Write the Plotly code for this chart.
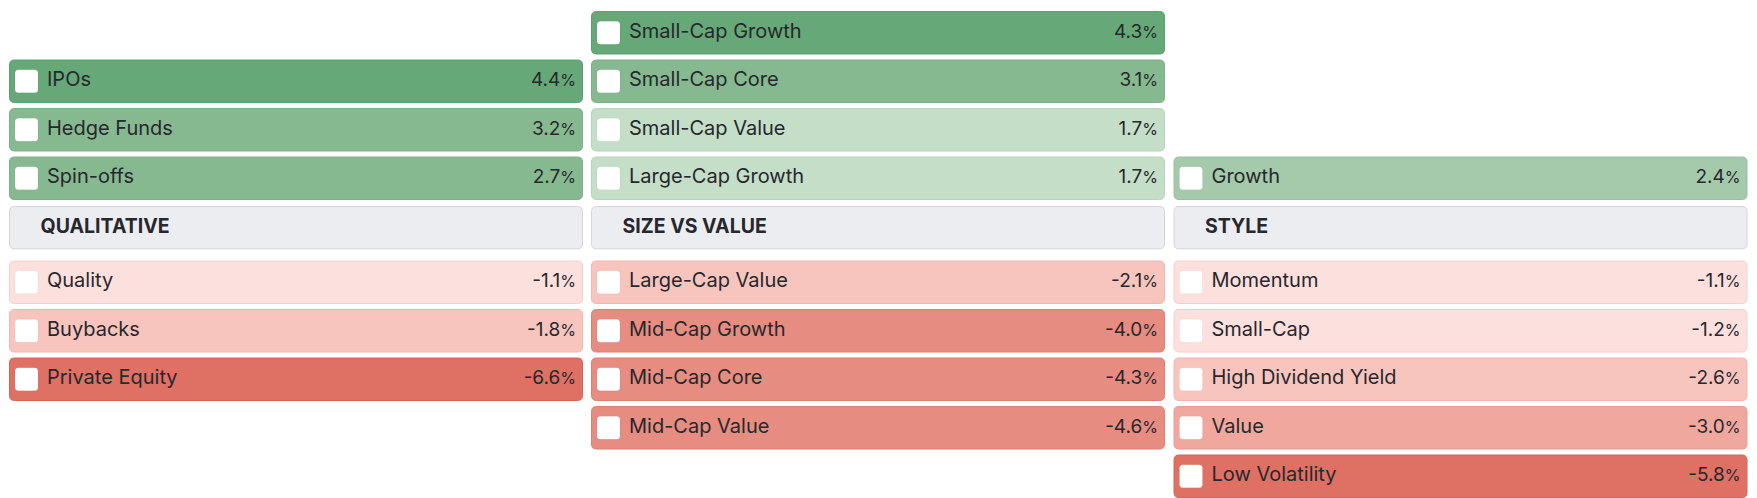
import plotly.graph_objects as go

# ---- data ----
group_titles = ["QUALITATIVE", "SIZE VS VALUE", "STYLE"]

qual_labels = ["IPOs", "Hedge Funds", "Spin-offs", "Quality", "Buybacks", "Private Equity"]
qual_values = [4.4, 3.2, 2.7, -1.1, -1.8, -6.6]

size_labels = ["Small-Cap Growth", "Small-Cap Core", "Small-Cap Value", "Large-Cap Growth",
               "Large-Cap Value", "Mid-Cap Growth", "Mid-Cap Core", "Mid-Cap Value"]
size_values = [4.3, 3.1, 1.7, 1.7, -2.1, -4.0, -4.3, -4.6]

style_labels = ["Growth", "Momentum", "Small-Cap", "High Dividend Yield", "Value", "Low Volatility"]
style_values = [2.4, -1.1, -1.2, -2.6, -3.0, -5.8]

groups = [(qual_labels, qual_values), (size_labels, size_values), (style_labels, style_values)]

# ---- style ----
W, H = 1757, 498
COL_X0 = [9, 591, 1173.5]
COL_W = 574
CELL_H = 43.5
PITCH = 48.5
HEADER_TOP = 206
HEADER_H = 43.3
NEG_TOP = 260.5
RADIUS = 5
TEXT_COLOR = "#26282d"
FONT = "Inter, Roboto, sans-serif"


def cell_color(v):
    if v >= 4.0:
        return "#66a877", "#5e9f6f"
    if v >= 2.5:
        return "#86b990", "#7cb086"
    if v >= 2.0:
        return "#a4caab", "#98c09f"
    if v > 0:
        return "#c4dec8", "#b6d4bb"
    if v > -1.5:
        return "#fce0dd", "#f5d0cb"
    if v > -2.9:
        return "#f7c5be", "#efb7af"
    if v > -3.5:
        return "#f0a89e", "#e89b90"
    if v > -5.0:
        return "#e68c80", "#dc8074"
    return "#df7064", "#d46457"


def rrect(x0, y0, x1, y1, r):
    return (f"M {x0+r},{y0} L {x1-r},{y0} Q {x1},{y0} {x1},{y0+r} "
            f"L {x1},{y1-r} Q {x1},{y1} {x1-r},{y1} L {x0+r},{y1} "
            f"Q {x0},{y1} {x0},{y1-r} L {x0},{y0+r} Q {x0},{y0} {x0+r},{y0} Z")


shapes = []
lab_x, lab_y, lab_t = [], [], []
val_x, val_y, val_t = [], [], []
hdr_x, hdr_y, hdr_t = [], [], []

for gi, (labels, values) in enumerate(groups):
    x0 = COL_X0[gi]
    x1 = x0 + COL_W
    pos = [(l, v) for l, v in zip(labels, values) if v > 0]
    neg = [(l, v) for l, v in zip(labels, values) if v <= 0]
    tops = []
    n = len(pos)
    for i in range(n):
        k = n - 1 - i
        tops.append(HEADER_TOP - 49.5 - k * PITCH)
    for i in range(len(neg)):
        tops.append(NEG_TOP + i * PITCH)
    for (l, v), t in zip(pos + neg, tops):
        fill, line = cell_color(v)
        shapes.append(dict(type="path", path=rrect(x0 + 0.5, t + 0.5, x1 - 0.5, t + CELL_H - 0.5, RADIUS),
                           xref="x", yref="y", fillcolor=fill, line=dict(color=line, width=1), layer="below"))
        cy = t + CELL_H / 2
        shapes.append(dict(type="path", path=rrect(x0 + 6, cy - 11.5, x0 + 29, cy + 11.5, 3.5),
                           xref="x", yref="y", fillcolor="#ffffff", line=dict(color="rgba(0,0,0,0.04)", width=1),
                           layer="below"))
        lab_x.append(x0 + 38)
        lab_y.append(cy)
        lab_t.append(l)
        val_x.append(x1 - 7)
        val_y.append(cy)
        val_t.append(f"{v:.1f}<span style='font-size:16px'>%</span>")
    # header
    shapes.append(dict(type="path", path=rrect(x0 + 0.5, HEADER_TOP + 0.5, x1 - 0.5, HEADER_TOP + HEADER_H - 0.5, RADIUS),
                       xref="x", yref="y", fillcolor="#ecedf1", line=dict(color="#d4d5d9", width=1), layer="below"))
    hdr_x.append(x0 + 31.5)
    hdr_y.append(HEADER_TOP + HEADER_H / 2)
    hdr_t.append(f"<b>{group_titles[gi]}</b>")

fig = go.Figure()
fig.add_trace(go.Scatter(x=lab_x, y=lab_y, text=lab_t, mode="text", textposition="middle right",
                         textfont=dict(family=FONT, size=20, color=TEXT_COLOR), hoverinfo="skip", cliponaxis=False))
fig.add_trace(go.Scatter(x=val_x, y=val_y, text=val_t, mode="text", textposition="middle left",
                         textfont=dict(family=FONT, size=19, color=TEXT_COLOR), hoverinfo="skip", cliponaxis=False))
fig.add_trace(go.Scatter(x=hdr_x, y=hdr_y, text=hdr_t, mode="text", textposition="middle right",
                         textfont=dict(family=FONT, size=19.5, color=TEXT_COLOR), hoverinfo="skip", cliponaxis=False))

fig.update_layout(
    width=W, height=H, margin=dict(l=0, r=0, t=0, b=0),
    paper_bgcolor="white", plot_bgcolor="white", showlegend=False,
    shapes=shapes,
    xaxis=dict(range=[0, W], visible=False, fixedrange=True),
    yaxis=dict(range=[H, 0], visible=False, fixedrange=True),
)

fig.write_html("out.html", config={"displayModeBar": False},
               post_script="document.body.style.margin='0';")
